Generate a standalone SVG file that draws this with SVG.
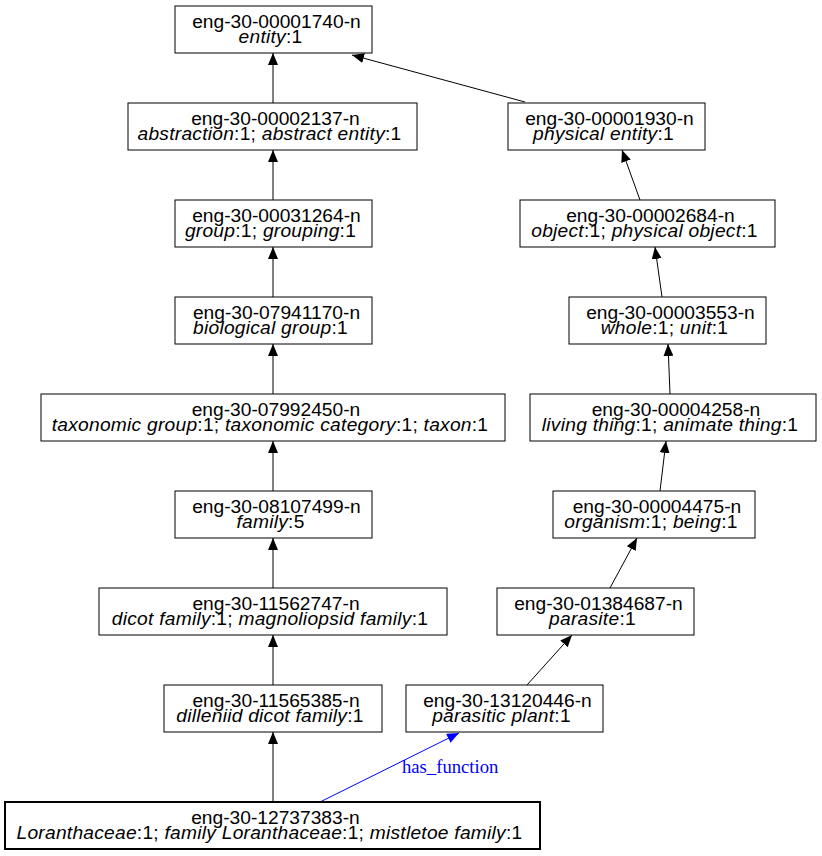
<svg xmlns="http://www.w3.org/2000/svg" width="822" height="856" viewBox="0 0 822 856">
<style>
.box{fill:#fff;stroke:#000;stroke-width:1}
.bold{stroke-width:2}
text{font-family:"Liberation Sans",Arial,sans-serif;font-size:19.2px;text-anchor:middle;fill:#000}
.l2{letter-spacing:0.25px}
.i{font-style:italic}
.e{stroke:#000;stroke-width:1;fill:none;marker-end:url(#ah)}
.eb{stroke:#0000ff;stroke-width:1;fill:none;marker-end:url(#ahb)}
.lbl{font-family:"Liberation Serif","Times New Roman",serif;font-size:18.67px;fill:#0000ff;text-anchor:start;letter-spacing:0}
</style>
<defs>
<marker id="ah" markerUnits="userSpaceOnUse" markerWidth="12" markerHeight="10" refX="12" refY="5" orient="auto"><path d="M0,0 L12,5 L0,10 z" fill="#000"/></marker>
<marker id="ahb" markerUnits="userSpaceOnUse" markerWidth="12" markerHeight="10" refX="12" refY="5" orient="auto"><path d="M0,0 L12,5 L0,10 z" fill="#0000ff"/></marker>
</defs>
<rect width="822" height="856" fill="#fff"/>
<g id="edges">
<line class="e" x1="273" y1="103" x2="273" y2="53"/>
<line class="e" x1="525" y1="102" x2="352" y2="55"/>
<line class="e" x1="273" y1="200" x2="273" y2="150"/>
<line class="e" x1="273" y1="297" x2="273" y2="247"/>
<line class="e" x1="273" y1="394" x2="273" y2="344"/>
<line class="e" x1="273" y1="491" x2="273" y2="441"/>
<line class="e" x1="273" y1="588" x2="273" y2="538"/>
<line class="e" x1="273" y1="685" x2="273" y2="635"/>
<line class="e" x1="273" y1="802" x2="273" y2="732"/>
<line class="e" x1="640" y1="200" x2="622" y2="150"/>
<line class="e" x1="662" y1="297" x2="655" y2="247"/>
<line class="e" x1="670" y1="394" x2="668" y2="344"/>
<line class="e" x1="660" y1="491" x2="666" y2="441"/>
<line class="e" x1="610" y1="588" x2="637" y2="538"/>
<line class="e" x1="527" y1="685" x2="572" y2="635"/>
<line class="eb" x1="320" y1="802" x2="459" y2="733"/>
<text class="lbl" x="402" y="773">has_function</text>
</g>
<g id="n00001740"><rect class="box" x="175" y="6" width="197" height="47"/><text x="276.5" y="27.5">eng-30-00001740-n</text><text class="l2" x="270.5" y="42.5"><tspan class="i">entity</tspan>:1</text></g>
<g id="n00002137"><rect class="box" x="128" y="103" width="289" height="47"/><text x="275.5" y="124.5">eng-30-00002137-n</text><text class="l2" x="269.5" y="139.5"><tspan class="i">abstraction</tspan>:1; <tspan class="i">abstract entity</tspan>:1</text></g>
<g id="n00031264"><rect class="box" x="175" y="200" width="197" height="47"/><text x="276.5" y="221.5">eng-30-00031264-n</text><text class="l2" x="270.5" y="236.5"><tspan class="i">group</tspan>:1; <tspan class="i">grouping</tspan>:1</text></g>
<g id="n07941170"><rect class="box" x="175" y="297" width="197" height="47"/><text x="276.5" y="318.5">eng-30-07941170-n</text><text class="l2" x="270.5" y="333.5"><tspan class="i">biological group</tspan>:1</text></g>
<g id="n07992450"><rect class="box" x="41" y="394" width="464" height="47"/><text x="276" y="415.5">eng-30-07992450-n</text><text class="l2" x="270" y="430.5"><tspan class="i">taxonomic group</tspan>:1; <tspan class="i">taxonomic category</tspan>:1; <tspan class="i">taxon</tspan>:1</text></g>
<g id="n08107499"><rect class="box" x="175" y="491" width="197" height="47"/><text x="276.5" y="512.5">eng-30-08107499-n</text><text class="l2" x="270.5" y="527.5"><tspan class="i">family</tspan>:5</text></g>
<g id="n11562747"><rect class="box" x="99" y="588" width="348" height="47"/><text x="276" y="609.5">eng-30-11562747-n</text><text class="l2" x="270" y="624.5"><tspan class="i">dicot family</tspan>:1; <tspan class="i">magnoliopsid family</tspan>:1</text></g>
<g id="n11565385"><rect class="box" x="164" y="685" width="218" height="47"/><text x="276" y="706.5">eng-30-11565385-n</text><text class="l2" x="270" y="721.5"><tspan class="i">dilleniid dicot family</tspan>:1</text></g>
<g id="n12737383"><rect class="box bold" x="5" y="802" width="535" height="47"/><text x="275.5" y="823.5">eng-30-12737383-n</text><text class="l2" x="269.5" y="838.5"><tspan class="i">Loranthaceae</tspan>:1; <tspan class="i">family Loranthaceae</tspan>:1; <tspan class="i">mistletoe family</tspan>:1</text></g>
<g id="n00001930"><rect class="box" x="508" y="103" width="197" height="47"/><text x="609.5" y="124.5">eng-30-00001930-n</text><text class="l2" x="603.5" y="139.5"><tspan class="i">physical entity</tspan>:1</text></g>
<g id="n00002684"><rect class="box" x="520" y="200" width="255" height="47"/><text x="650.5" y="221.5">eng-30-00002684-n</text><text class="l2" x="644.5" y="236.5"><tspan class="i">object</tspan>:1; <tspan class="i">physical object</tspan>:1</text></g>
<g id="n00003553"><rect class="box" x="569" y="297" width="197" height="47"/><text x="670.5" y="318.5">eng-30-00003553-n</text><text class="l2" x="664.5" y="333.5"><tspan class="i">whole</tspan>:1; <tspan class="i">unit</tspan>:1</text></g>
<g id="n00004258"><rect class="box" x="530" y="394" width="286" height="47"/><text x="676" y="415.5">eng-30-00004258-n</text><text class="l2" x="670" y="430.5"><tspan class="i">living thing</tspan>:1; <tspan class="i">animate thing</tspan>:1</text></g>
<g id="n00004475"><rect class="box" x="553" y="491" width="202" height="47"/><text x="657" y="512.5">eng-30-00004475-n</text><text class="l2" x="651" y="527.5"><tspan class="i">organism</tspan>:1; <tspan class="i">being</tspan>:1</text></g>
<g id="n01384687"><rect class="box" x="497" y="588" width="197" height="47"/><text x="598.5" y="609.5">eng-30-01384687-n</text><text class="l2" x="592.5" y="624.5"><tspan class="i">parasite</tspan>:1</text></g>
<g id="n13120446"><rect class="box" x="406" y="685" width="197" height="47"/><text x="507.5" y="706.5">eng-30-13120446-n</text><text class="l2" x="501.5" y="721.5"><tspan class="i">parasitic plant</tspan>:1</text></g>
</svg>
